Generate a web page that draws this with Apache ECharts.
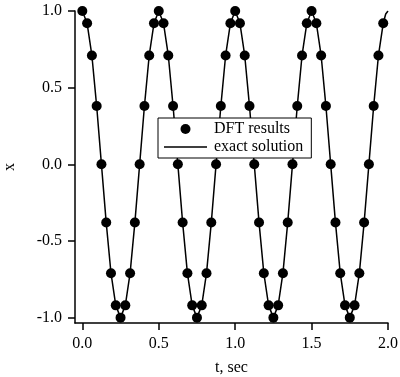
<!DOCTYPE html>
<html>
<head>
<meta charset="utf-8">
<script src="https://cdn.jsdelivr.net/npm/echarts@6/dist/echarts.min.js"></script>
<style>html,body{margin:0;padding:0;background:#fff}#c{width:400px;height:377px}</style>
</head>
<body>
<div id="c"></div>
<script>
// DFT sample times (s)
var tSamples = [0, 0.03125, 0.0625, 0.09375, 0.125, 0.15625, 0.1875, 0.21875,
  0.25, 0.28125, 0.3125, 0.34375, 0.375, 0.40625, 0.4375, 0.46875,
  0.5, 0.53125, 0.5625, 0.59375, 0.625, 0.65625, 0.6875, 0.71875,
  0.75, 0.78125, 0.8125, 0.84375, 0.875, 0.90625, 0.9375, 0.96875,
  1.0, 1.03125, 1.0625, 1.09375, 1.125, 1.15625, 1.1875, 1.21875,
  1.25, 1.28125, 1.3125, 1.34375, 1.375, 1.40625, 1.4375, 1.46875,
  1.5, 1.53125, 1.5625, 1.59375, 1.625, 1.65625, 1.6875, 1.71875,
  1.75, 1.78125, 1.8125, 1.84375, 1.875, 1.90625, 1.9375, 1.96875];
// DFT results
var xDFT = [1.0, 0.92, 0.71, 0.38, 0.0, -0.38, -0.71, -0.92,
  -1.0, -0.92, -0.71, -0.38, 0.0, 0.38, 0.71, 0.92,
  1.0, 0.92, 0.71, 0.38, 0.0, -0.38, -0.71, -0.92,
  -1.0, -0.92, -0.71, -0.38, 0.0, 0.38, 0.71, 0.92,
  1.0, 0.92, 0.71, 0.38, 0.0, -0.38, -0.71, -0.92,
  -1.0, -0.92, -0.71, -0.38, 0.0, 0.38, 0.71, 0.92,
  1.0, 0.92, 0.71, 0.38, 0.0, -0.38, -0.71, -0.92,
  -1.0, -0.92, -0.71, -0.38, 0.0, 0.38, 0.71, 0.92];
// exact solution (continues to t = 2.0)
var tExact = tSamples.concat([1.985, 2.0]);
var xExact = xDFT.concat([0.98, 1.0]);
var xTicks = [0, 0.5, 1.0, 1.5, 2.0];
var yTicks = [-1.0, -0.5, 0.0, 0.5, 1.0];

var font = "'Liberation Serif','Times New Roman',serif";
var dftData = tSamples.map(function (t, i) { return [t, xDFT[i]]; });
var exactData = tExact.map(function (t, i) { return [t, xExact[i]]; });
var lineIcon = 'path://M0,0 L0.01,0 L0,0.01 Z M0,4.25 L43,4.25 L43,5.75 L0,5.75 Z M43,10 L42.99,10 L43,9.99 Z';

var chart = echarts.init(document.getElementById('c'), null, {renderer: 'canvas'});
chart.setOption({
  animation: false,
  backgroundColor: '#fff',
  textStyle: {fontFamily: font, color: '#000'},
  grid: {left: 75, right: 12, top: 11, bottom: 54, containLabel: false, outerBoundsMode: 'none'},
  legend: {
    orient: 'vertical', left: 158, top: 118,
    backgroundColor: '#fff',
    borderColor: '#000', borderWidth: 1,
    padding: [3, 8, 3, 6],
    itemGap: 2,
    itemWidth: 43, itemHeight: 10,
    textStyle: {fontFamily: font, fontSize: 16, color: '#000', padding: [0, 0, 0, 2]},
    data: [
      {name: 'DFT results', icon: 'circle', itemStyle: {color: '#000', opacity: 1}},
      {name: 'exact solution', icon: lineIcon, itemStyle: {color: '#000', opacity: 1}}
    ]
  },
  xAxis: {
    type: 'value', min: -0.048, max: 2.0,
    name: 't, sec', nameLocation: 'middle', nameGap: 37,
    nameTextStyle: {fontFamily: font, fontSize: 16, color: '#000'},
    axisLine: {show: true, onZero: false, lineStyle: {color: '#000', width: 1.5}},
    axisTick: {show: true, length: 7, customValues: xTicks, lineStyle: {color: '#000', width: 1.5}},
    axisLabel: {customValues: xTicks, margin: 13, fontFamily: font, fontSize: 16, color: '#000',
      formatter: function (v) { return v.toFixed(1); }},
    splitLine: {show: false}
  },
  yAxis: {
    type: 'value', min: -1.035, max: 1.0,
    name: 'x', nameLocation: 'middle', nameGap: 57,
    nameTextStyle: {fontFamily: font, fontSize: 16, color: '#000'},
    axisLine: {show: true, onZero: false, lineStyle: {color: '#000', width: 1.5}},
    axisTick: {show: true, length: 7, customValues: yTicks, lineStyle: {color: '#000', width: 1.5}},
    axisLabel: {customValues: yTicks, margin: 13, fontFamily: font, fontSize: 16, color: '#000',
      formatter: function (v) { return v.toFixed(1); }},
    splitLine: {show: false}
  },
  series: [
    {
      name: 'exact solution', type: 'line', data: exactData,
      symbol: 'none', smooth: false, z: 2,
      lineStyle: {color: '#000', width: 1.5},
      itemStyle: {color: '#000'}
    },
    {
      name: 'DFT results', type: 'scatter', data: dftData,
      symbol: 'circle', symbolSize: 10, z: 3,
      itemStyle: {color: '#000', opacity: 1}
    }
  ]
});
</script>
</body>
</html>
